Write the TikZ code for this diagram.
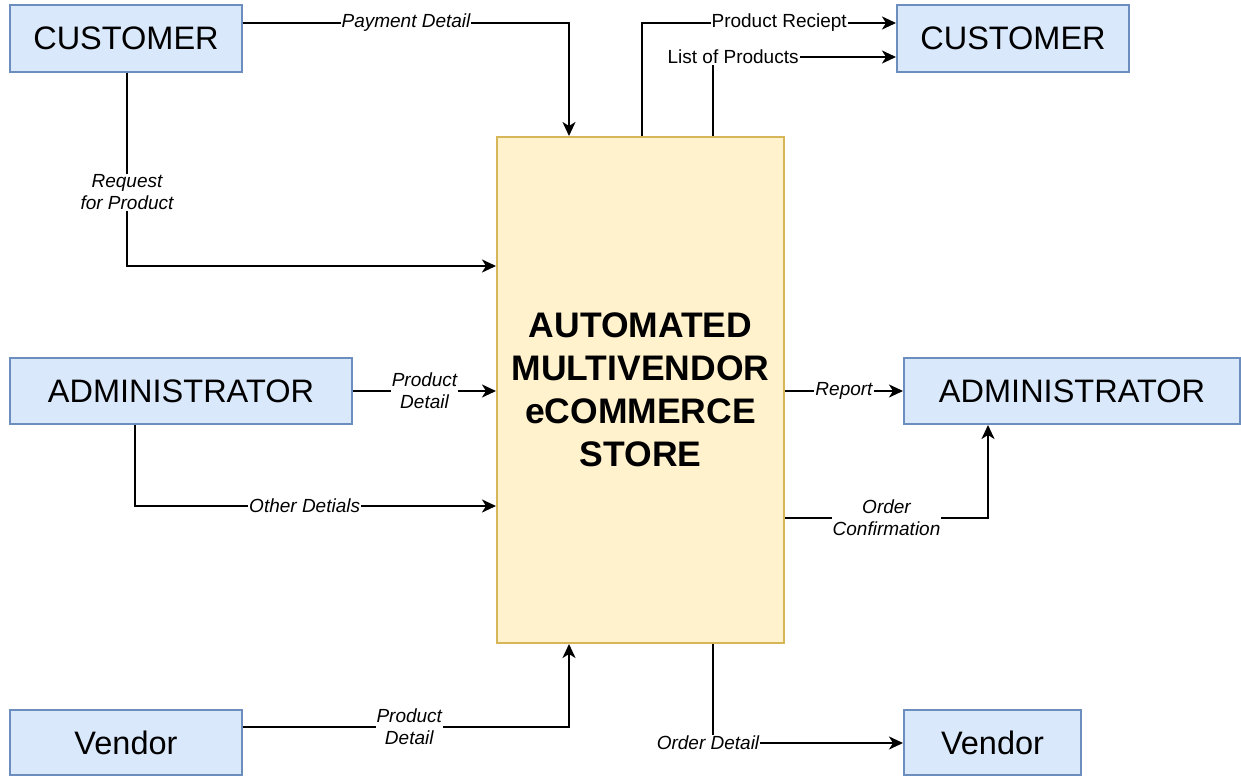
\documentclass[tikz,border=0pt]{standalone}
\usepackage{fontspec}
\setmainfont{Liberation Sans}
\usetikzlibrary{arrows.meta}

\definecolor{boxfill}{HTML}{DAE8FC}
\definecolor{boxline}{HTML}{6C8EBF}
\definecolor{storefill}{HTML}{FFF2CC}
\definecolor{storeline}{HTML}{D6B656}

\begin{document}
\begin{tikzpicture}[x=1pt,y=-1pt,
	ent/.style={draw=boxline,fill=boxfill,line width=2pt,minimum height=66pt,font=\fontsize{32.5}{39}\selectfont},
	flow/.style={line width=2pt,-{Stealth[length=14pt,width=13pt,inset=4pt]}},
	lbl/.style={fill=white,inner sep=1pt,align=center,font=\fontsize{19}{22}\selectfont\itshape},
	lblup/.style={lbl,font=\fontsize{19}{22}\selectfont}]
\useasboundingbox (0,0) rectangle (1241,776);
\node[ent,minimum width=232pt] (custL) at (126,38.5) {CUSTOMER};
\node[ent,minimum width=232pt] (custR) at (1013,38.5) {CUSTOMER};
\node[ent,minimum width=342pt] (adminL) at (181,391) {ADMINISTRATOR};
\node[ent,minimum width=336pt] (adminR) at (1072,391) {ADMINISTRATOR};
\node[ent,minimum width=232pt,minimum height=65pt] (vendL) at (126,742.5) {Vendor};
\node[ent,minimum width=177pt,minimum height=65pt] (vendR) at (992.5,742.5) {Vendor};
\node[draw=storeline,fill=storefill,line width=2pt,minimum width=287pt,minimum height=506pt,
	align=center,font=\fontsize{35.5}{43}\selectfont\bfseries] (store) at (640.5,390)
	{AUTOMATED\\MULTIVENDOR\\eCOMMERCE\\STORE};
\coordinate (pay) at (569,23);
\coordinate (req) at (127,266);
\coordinate (oth) at (135,506);
\coordinate (vin) at (569,727);
\coordinate (rcp) at (642,23);
\coordinate (lst) at (713,57);
\coordinate (ocf) at (988,518);
\coordinate (odt) at (713,743);
\draw[flow] (custL.east |- pay) -- node[lbl]{Payment Detail} (pay) -- (store.north -| pay);
\draw[flow] (custL.south -| req) |- node[lbl,pos=0.31]{Request\\for Product} (store.west |- req);
\draw[flow] (adminL.east) -- node[lbl]{Product\\Detail} (store.west |- adminL.east);
\draw[flow] (adminL.south -| oth) |- node[lbl,pos=0.735]{Other Detials} (store.west |- oth);
\draw[flow] (vendL.east |- vin) -| node[lbl,pos=0.255]{Product\\Detail} (store.south -| vin);
\draw[flow] (store.north -| rcp) |- node[lblup,pos=0.77]{Product Reciept} (custR.west |- rcp);
\draw[flow] (store.north -| lst) |- node[lblup,pos=0.555]{List of Products} (custR.west |- lst);
\draw[flow] (store.east |- adminR.west) -- node[lbl]{Report} (adminR.west);
\draw[flow] (store.east |- ocf) -| node[lbl,pos=0.25]{Order\\Confirmation} (adminR.south -| ocf);
\draw[flow] (store.south -| odt) |- node[lbl,pos=0.5,xshift=-5pt]{Order Detail} (vendR.west |- odt);
\end{tikzpicture}
\end{document}
